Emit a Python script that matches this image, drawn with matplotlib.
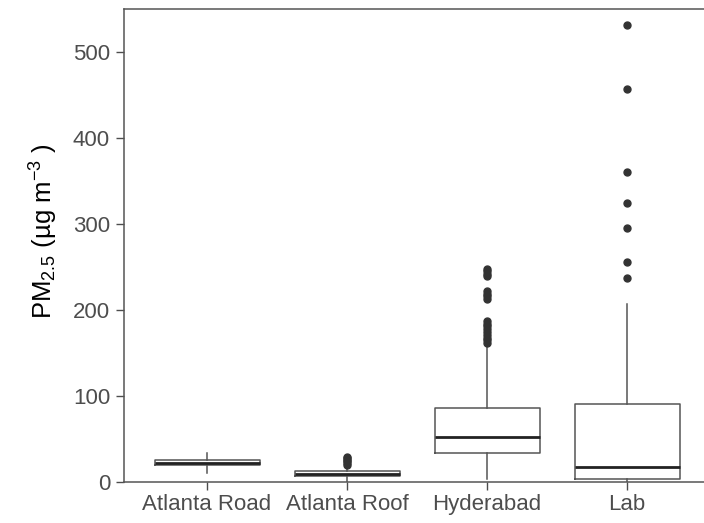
import matplotlib
matplotlib.use("Agg")
import matplotlib.pyplot as plt

plt.rcParams['font.family'] = ['Liberation Sans', 'DejaVu Sans']
plt.rcParams['mathtext.default'] = 'regular'

categories = ["Atlanta Road", "Atlanta Roof", "Hyderabad", "Lab"]
whisker_low = [11, 0, 3, 0]
q1 = [20, 7, 34, 4]
median = [22.5, 9.5, 52, 17]
q3 = [25.5, 12.5, 86, 91]
whisker_high = [34, 18, 160, 207]
outliers = [
    [],
    [20, 22, 24, 26, 28, 29],
    [162, 165, 168, 171, 175, 178, 181, 184, 187, 213, 216, 219, 222, 239, 242, 245, 248],
    [237, 256, 295, 324, 360, 457, 531],
]
y_ticks = [0, 100, 200, 300, 400, 500]

stats = []
for i, c in enumerate(categories):
    stats.append(dict(label=c, whislo=whisker_low[i], q1=q1[i], med=median[i],
                      q3=q3[i], whishi=whisker_high[i], fliers=outliers[i]))

fig = plt.figure(figsize=(7.04, 5.23), dpi=100)
ax = fig.add_axes([124/704, 1-482/523, 1-124/704, (482-9)/523])

gray = '#4d4d4d'
ax.bxp(stats, positions=range(1, 5), widths=0.75, showcaps=False, patch_artist=False,
       boxprops=dict(color='#555555', linewidth=1.1),
       whiskerprops=dict(color='#555555', linewidth=1.1),
       medianprops=dict(color='#222222', linewidth=2.0),
       flierprops=dict(marker='o', markerfacecolor='#333333', markeredgecolor='#333333',
                       markersize=5, linestyle='none'))

ax.set_xlim(0.407, 4.55)
ax.set_ylim(0, 550)
ax.set_yticks(y_ticks)
ax.set_xticks(range(1, 5))
ax.set_xticklabels(categories)
ax.tick_params(axis='both', colors=gray, labelsize=16, length=5.5, width=1, labelcolor=gray)
ax.tick_params(axis='x', pad=3)
ax.tick_params(axis='y', pad=4.5)

for s in ['left', 'bottom', 'top']:
    ax.spines[s].set_color('#555555')
    ax.spines[s].set_linewidth(1.1)
ax.spines['right'].set_visible(False)

ax.set_ylabel('PM$_{2.5}$ (µg m$^{-3}$ )', fontsize=18.5, color='black')
ax.yaxis.set_label_coords(-0.11, 0.53)

fig.savefig('out.png', dpi=100)
